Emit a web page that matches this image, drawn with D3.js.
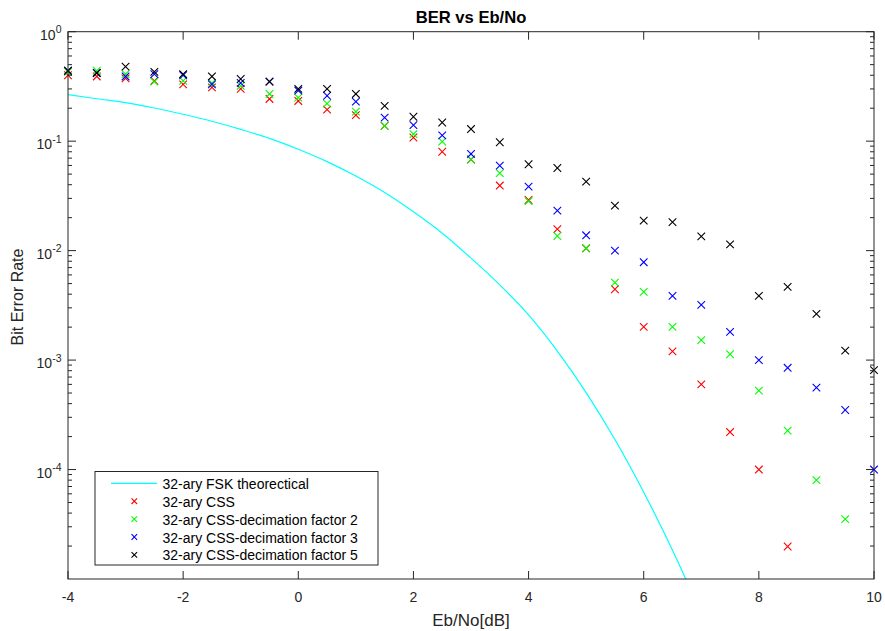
<!DOCTYPE html>
<html>
<head>
<meta charset="utf-8">
<script src="https://cdn.jsdelivr.net/npm/d3@7"></script>
<style>
  body { margin: 0; background: #fff; }
  svg { font-family: "Liberation Sans", Arial, sans-serif; }
</style>
</head>
<body>
<svg width="885" height="631"></svg>
<script>
// Eb/No values (dB)
const ebno = [-4, -3.5, -3, -2.5, -2, -1.5, -1, -0.5, 0, 0.5, 1, 1.5, 2, 2.5, 3, 3.5, 4, 4.5, 5, 5.5, 6, 6.5, 7, 7.5, 8, 8.5, 9, 9.5, 10];

// measured BER, null = no point shown
const ber_css = [0.40, 0.39, 0.375, 0.355, 0.33, 0.31, 0.30, 0.243, 0.233, 0.194, 0.173, 0.138, 0.108, 0.080, 0.068, 0.0393, 0.029, 0.0157, 0.0105, 0.00444, 0.00201, 0.0012, 0.0006, 0.00022, 0.0001, 0.0000198, null, null, null];
const ber_dec2 = [0.43, 0.44, 0.41, 0.35, 0.355, 0.34, 0.32, 0.27, 0.25, 0.22, 0.186, 0.138, 0.116, 0.099, 0.068, 0.051, 0.0283, 0.0136, 0.0105, 0.0051, 0.0042, 0.00201, 0.00152, 0.00113, 0.000526, 0.000227, 0.00008, 0.0000352, null];
const ber_dec3 = [0.44, 0.42, 0.39, 0.41, 0.40, 0.33, 0.34, 0.35, 0.29, 0.26, 0.23, 0.164, 0.140, 0.113, 0.0764, 0.0597, 0.0384, 0.0232, 0.0138, 0.0100, 0.00784, 0.00386, 0.00319, 0.00181, 0.00100, 0.00085, 0.00056, 0.00035, 0.0001];
const ber_dec5 = [0.44, 0.42, 0.48, 0.43, 0.41, 0.39, 0.37, 0.35, 0.30, 0.30, 0.27, 0.21, 0.167, 0.148, 0.129, 0.0977, 0.0615, 0.0569, 0.0427, 0.0258, 0.0188, 0.0182, 0.0135, 0.0114, 0.00386, 0.00466, 0.00264, 0.00122, 0.00081];

// theoretical curve
const theo_x = [-4, -3.5, -3, -2.5, -2, -1.5, -1, -0.5, 0, 0.5, 1, 1.5, 2, 2.5, 3, 3.5, 4, 4.5, 5, 5.5, 6, 6.5, 7];
const theo_y = [0.266, 0.244, 0.225, 0.201, 0.176, 0.152, 0.128, 0.106, 0.0843, 0.065, 0.048, 0.0339, 0.0226, 0.0144, 0.00853, 0.00486, 0.00259, 0.00121, 0.000505, 0.000188, 0.0000621, 0.0000183, 0.0000048];

const series = [
  { name: "32-ary CSS", color: "#ff0000", values: ber_css },
  { name: "32-ary CSS-decimation factor 2", color: "#00ff00", values: ber_dec2 },
  { name: "32-ary CSS-decimation factor 3", color: "#0000ff", values: ber_dec3 },
  { name: "32-ary CSS-decimation factor 5", color: "#000000", values: ber_dec5 }
];

const x_ticks = [-4, -2, 0, 2, 4, 6, 8, 10];
const y_ticks = [1, 0.1, 0.01, 0.001, 0.0001];
const y_exps = ["0", "-1", "-2", "-3", "-4"];

const svg = d3.select("svg");
const pLeft = 68, pRight = 874, pTop = 31.7, pBottom = 579;

const x = d3.scaleLinear().domain([-4, 10]).range([pLeft, pRight]);
const y = d3.scaleLog().domain([1e-5, 1]).range([pBottom, pTop]);

const axisColor = "#262626";

svg.append("defs").append("clipPath").attr("id", "plotclip")
  .append("rect").attr("x", pLeft).attr("y", pTop)
  .attr("width", pRight - pLeft).attr("height", pBottom - pTop);

// theoretical line
svg.append("path")
  .datum(theo_x.map((d, i) => [d, theo_y[i]]))
  .attr("clip-path", "url(#plotclip)")
  .attr("fill", "none")
  .attr("stroke", "#00ffff")
  .attr("stroke-width", 1.2)
  .attr("d", d3.line().x(d => x(d[0])).y(d => y(d[1])).curve(d3.curveMonotoneX));

// x markers
function cross(g, cx, cy, color, s) {
  g.append("path")
    .attr("d", `M${cx - s},${cy - s}L${cx + s},${cy + s}M${cx - s},${cy + s}L${cx + s},${cy - s}`)
    .attr("stroke", color)
    .attr("stroke-width", 1.1)
    .attr("fill", "none");
}

const marks = svg.append("g");
series.forEach(s => {
  s.values.forEach((v, i) => {
    if (v === null) return;
    cross(marks, x(ebno[i]), y(v), s.color, 3.8);
  });
});

// axes box
const ax = svg.append("g").attr("stroke", axisColor).attr("stroke-width", 1);
ax.append("rect").attr("x", pLeft).attr("y", pTop)
  .attr("width", pRight - pLeft).attr("height", pBottom - pTop).attr("fill", "none");

// x ticks (bottom and top, inward)
x_ticks.forEach(t => {
  ax.append("line").attr("x1", x(t)).attr("x2", x(t)).attr("y1", pBottom).attr("y2", pBottom - 8);
  ax.append("line").attr("x1", x(t)).attr("x2", x(t)).attr("y1", pTop).attr("y2", pTop + 8);
});

// y ticks, major and minor on both sides
for (let e = -5; e <= 0; e++) {
  for (let m = 1; m <= 9; m++) {
    const v = m * Math.pow(10, e);
    if (v > 1 || v <= 1e-5) continue;
    const len = m === 1 ? 8 : 4;
    const yy = y(v);
    ax.append("line").attr("x1", pLeft).attr("x2", pLeft + len).attr("y1", yy).attr("y2", yy);
    ax.append("line").attr("x1", pRight).attr("x2", pRight - len).attr("y1", yy).attr("y2", yy);
  }
}

// tick labels
svg.append("g").selectAll("text").data(x_ticks).enter().append("text")
  .attr("x", d => x(d)).attr("y", 601.5)
  .attr("text-anchor", "middle")
  .attr("font-size", 14).attr("fill", axisColor)
  .text(d => d);

const yl = svg.append("g").selectAll("text").data(y_ticks).enter().append("text")
  .attr("x", 61.5).attr("y", d => y(d) + 8)
  .attr("text-anchor", "end")
  .attr("font-size", 14).attr("fill", axisColor);
yl.append("tspan").text("10");
yl.append("tspan").attr("dy", -6.5).attr("font-size", 10.5).text((d, i) => y_exps[i]);

// title and axis labels
svg.append("text").attr("x", (pLeft + pRight) / 2).attr("y", 23)
  .attr("text-anchor", "middle").attr("font-size", 16.6).attr("font-weight", "bold")
  .attr("fill", "#000").text("BER vs Eb/No");

svg.append("text").attr("x", (pLeft + pRight) / 2).attr("y", 626)
  .attr("text-anchor", "middle").attr("font-size", 17).attr("fill", axisColor)
  .text("Eb/No[dB]");

svg.append("text")
  .attr("transform", `translate(23,297) rotate(-90)`)
  .attr("text-anchor", "middle").attr("font-size", 16).attr("fill", axisColor)
  .text("Bit Error Rate");

// legend
const lg = svg.append("g");
lg.append("rect").attr("x", 95).attr("y", 471.5).attr("width", 283).attr("height", 93.5)
  .attr("fill", "#fff").attr("stroke", axisColor).attr("stroke-width", 1);

const legendItems = [{ name: "32-ary FSK theorectical", color: "#00ffff", line: true }]
  .concat(series.map(s => ({ name: s.name, color: s.color, line: false })));

legendItems.forEach((d, i) => {
  const ly = 483.3 + i * 17.9;
  if (d.line) {
    lg.append("line").attr("x1", 111).attr("x2", 157).attr("y1", ly).attr("y2", ly)
      .attr("stroke", d.color).attr("stroke-width", 1.2);
  } else {
    cross(lg, 134.3, ly, d.color, 2.8);
  }
  lg.append("text").attr("x", 162.5).attr("y", ly + 5.5)
    .attr("font-size", 14).attr("fill", "#000").text(d.name);
});
</script>
</body>
</html>
